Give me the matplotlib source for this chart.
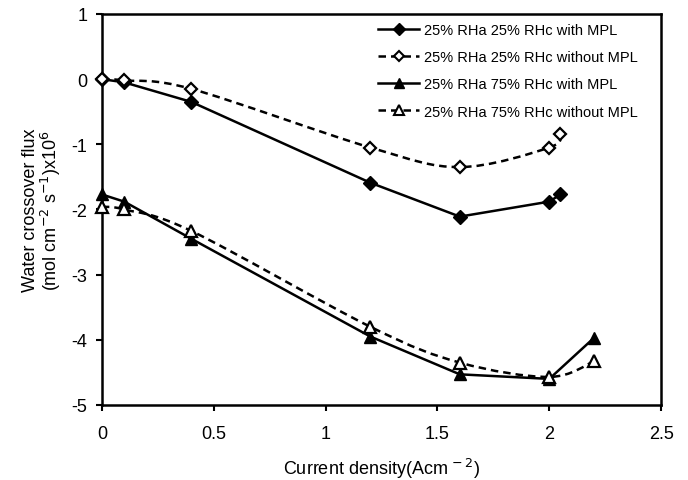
import numpy as np
import matplotlib
matplotlib.use('Agg')
import matplotlib.pyplot as plt
from matplotlib.path import Path
from matplotlib.patches import PathPatch
from matplotlib.lines import Line2D

plt.rcParams['font.family'] = ['Liberation Sans', 'DejaVu Sans']
plt.rcParams['axes.unicode_minus'] = False

# current density (A cm-2)
x_a = [0, 0.1, 0.4, 1.2, 1.6, 2.0, 2.05]
x_b = [0, 0.1, 0.4, 1.2, 1.6, 2.0, 2.2]

# water crossover flux x1e6
rh25_mpl = [0, -0.05, -0.35, -1.59, -2.11, -1.88, -1.77]
rh25_nompl = [0, -0.02, -0.15, -1.05, -1.35, -1.05, -0.84]
rh75_mpl = [-1.77, -1.88, -2.45, -3.95, -4.53, -4.60, -3.97]
rh75_nompl = [-1.96, -2.0, -2.33, -3.80, -4.35, -4.57, -4.33]

labels = ['25% RHa 25% RHc with MPL',
          '25% RHa 25% RHc without MPL',
          '25% RHa 75% RHc with MPL',
          '25% RHa 75% RHc without MPL']


def smooth_path(x, y):
    # excel-like smoothed line: cubic bezier through the points
    p = np.column_stack([x, y]).astype(float)
    verts = [p[0]]
    codes = [Path.MOVETO]
    n = len(p)
    for i in range(n - 1):
        p0 = p[i - 1] if i > 0 else p[i]
        p1 = p[i]
        p2 = p[i + 1]
        p3 = p[i + 2] if i + 2 < n else p[i + 1]
        verts += [p1 + (p2 - p0) / 6, p2 - (p3 - p1) / 6, p2]
        codes += [Path.CURVE4] * 3
    return Path(verts, codes)


fig = plt.figure(figsize=(6.88, 4.81), dpi=100)
ax = fig.add_axes([0.148, 0.156, 0.813, 0.813])

lw = 1.8
dash = (0, (3, 2))

ax.plot(x_a, rh25_mpl, color='black', lw=lw, marker='D', ms=7.5, clip_on=False, zorder=3)
ax.add_patch(PathPatch(smooth_path(x_a, rh25_nompl), fill=False, ec='black',
                       lw=lw, ls=dash, zorder=2))
ax.plot(x_a, rh25_nompl, ls='none', marker='D', ms=6.5, mfc='white',
        mec='black', mew=1.6, clip_on=False, zorder=3)
ax.plot(x_b, rh75_mpl, color='black', lw=lw, marker='^', ms=9, clip_on=False, zorder=3)
ax.add_patch(PathPatch(smooth_path(x_b, rh75_nompl), fill=False, ec='black',
                       lw=lw, ls=dash, zorder=2))
ax.plot(x_b, rh75_nompl, ls='none', marker='^', ms=8, mfc='white',
        mec='black', mew=1.6, clip_on=False, zorder=3)

handles = [
    Line2D([], [], color='black', lw=lw, marker='D', ms=6),
    Line2D([], [], color='black', lw=lw, ls=dash, marker='D', ms=5.5,
           mfc='white', mew=1.5),
    Line2D([], [], color='black', lw=lw, marker='^', ms=7),
    Line2D([], [], color='black', lw=lw, ls=dash, marker='^', ms=7,
           mfc='white', mew=1.5),
]
ax.legend(handles, labels, loc='upper right', frameon=False, fontsize=10.5,
          handlelength=2.8, labelspacing=0.9, handletextpad=0.35,
          bbox_to_anchor=(0.982, 1.01))

ax.set_xlim(0, 2.5)
ax.set_ylim(-5, 1)
ax.set_xticks(np.arange(0, 2.51, 0.5))
ax.set_xticklabels(['0', '0.5', '1', '1.5', '2', '2.5'])
ax.set_yticks(range(-5, 2))
for s in ax.spines.values():
    s.set_linewidth(1.8)
ax.tick_params(direction='out', length=4.5, width=1.5, labelsize=13, pad=6)
ax.tick_params(axis='x', pad=10)

ax.set_xlabel('Current density(Acm$^{\\,-2}$)', fontsize=13, labelpad=10)
ax.set_ylabel('Water crossover flux\n(mol cm$^{-2}$ s$^{-1}$)x10$^{6}$',
              fontsize=13, labelpad=6, linespacing=1.0)

fig.savefig('out.png', dpi=100)
